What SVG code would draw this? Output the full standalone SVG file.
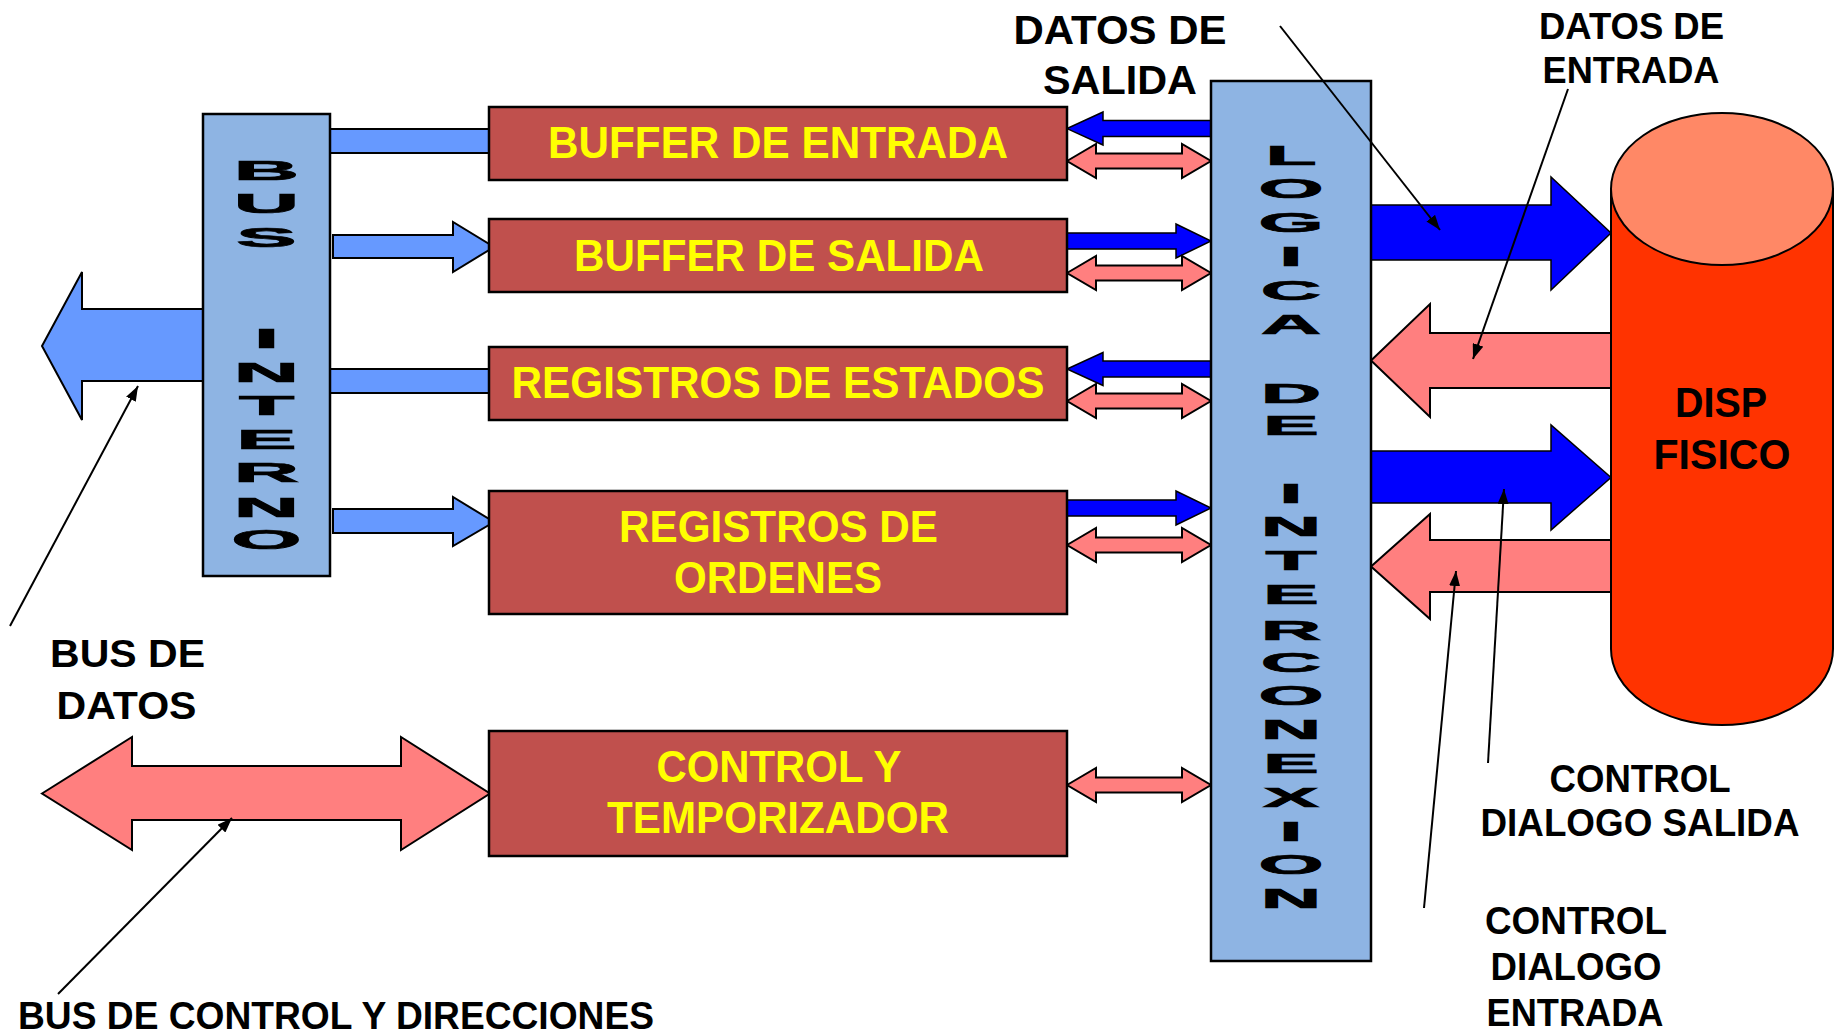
<svg xmlns="http://www.w3.org/2000/svg" width="1836" height="1034" viewBox="0 0 1836 1034">
<style>
  .lbl { font-family: "Liberation Sans", Arial, sans-serif; font-weight: bold; fill: #000; text-anchor: middle; }
  .ytx { font-family: "Liberation Sans", Arial, sans-serif; font-weight: bold; fill: #FFFF00; text-anchor: middle; font-size: 45px; }
  .vl { font-family: "Liberation Sans", Arial, sans-serif; font-weight: bold; font-size: 27px; fill: #000; stroke: #000; stroke-width: 0.7; text-anchor: middle; }
  .redbox { fill: #C0504D; stroke: #000; stroke-width: 2.5; }
  .bluebox { fill: #8EB4E3; stroke: #000; stroke-width: 2.5; }
  .lb { fill: #6699FF; stroke: #000; stroke-width: 2; }
  .db { fill: #0000FF; stroke: #000; stroke-width: 1.5; }
  .pk { fill: #FF7F7F; stroke: #000; stroke-width: 2; }
  .ann { fill: none; stroke: #000; stroke-width: 2; marker-end: url(#ah); }
</style>
<defs>
  <marker id="ah" viewBox="0 0 15 11" refX="15" refY="5.5" markerWidth="15" markerHeight="11" markerUnits="userSpaceOnUse" orient="auto">
    <path d="M0,0 L15,5.5 L0,11 z" fill="#000"/>
  </marker>
</defs>
<rect width="1836" height="1034" fill="#fff"/>

<g id="connectors">
  <path class="lb" d="M203,309 L82,309 L82,272 L42,346 L82,420 L82,381 L203,381"/>
  <path class="pk" d="M42,793.5 L132,737 L132,766 L401,766 L401,737 L490,793.5 L401,850 L401,820 L132,820 L132,850 Z"/>
  <path class="lb" d="M330,129 L490,129 L490,153 L330,153"/>
  <path class="lb" d="M333,235 L453,235 L453,222 L494,247 L453,272 L453,258 L333,258 Z"/>
  <path class="lb" d="M330,369 L490,369 L490,393 L330,393"/>
  <path class="lb" d="M333,509 L453,509 L453,497 L494,522 L453,546 L453,533 L333,533 Z"/>
  <path class="db" d="M1211,120.5 L1103,120.5 L1103,112 L1067,128.6 L1103,145 L1103,136.5 L1211,136.5"/>
  <path class="db" d="M1067,233 L1176,233 L1176,224 L1211,241 L1176,258 L1176,249 L1067,249"/>
  <path class="db" d="M1211,361 L1103,361 L1103,352.5 L1067,369 L1103,385.5 L1103,377 L1211,377"/>
  <path class="db" d="M1067,500 L1176,500 L1176,491 L1211,508 L1176,525 L1176,516 L1067,516"/>
  <path class="pk" d="M1067,161 L1096,144 L1096,153.5 L1182,153.5 L1182,144 L1211,161 L1182,178 L1182,168.5 L1096,168.5 L1096,178 Z"/>
  <path class="pk" d="M1067,273 L1096,256 L1096,265.5 L1182,265.5 L1182,256 L1211,273 L1182,290 L1182,280.5 L1096,280.5 L1096,290 Z"/>
  <path class="pk" d="M1067,401 L1096,384 L1096,393.5 L1182,393.5 L1182,384 L1211,401 L1182,418 L1182,408.5 L1096,408.5 L1096,418 Z"/>
  <path class="pk" d="M1067,545 L1096,528 L1096,537.5 L1182,537.5 L1182,528 L1211,545 L1182,562 L1182,552.5 L1096,552.5 L1096,562 Z"/>
  <path class="pk" d="M1067,785 L1096,768 L1096,777.5 L1182,777.5 L1182,768 L1211,785 L1182,802 L1182,792.5 L1096,792.5 L1096,802 Z"/>
  <path class="db" d="M1371,205 L1551,205 L1551,177 L1611,233 L1551,290 L1551,260 L1371,260"/>
  <path class="pk" d="M1611,333 L1430,333 L1430,304 L1371,360.5 L1430,417 L1430,388 L1611,388"/>
  <path class="db" d="M1371,451 L1551,451 L1551,425 L1611,477.5 L1551,530 L1551,503 L1371,503"/>
  <path class="pk" d="M1611,540 L1430,540 L1430,514 L1371,566.5 L1430,619 L1430,592 L1611,592"/>
</g>

<g id="bus-interno">
  <rect class="bluebox" x="203" y="114" width="127" height="462"/>
  <text class="vl" transform="translate(266.5,180) scale(3.35,1)">B</text>
  <text class="vl" transform="translate(266.5,213) scale(3.35,1)">U</text>
  <text class="vl" transform="translate(266.5,247) scale(3.35,1)">S</text>
  <text class="vl" transform="translate(266.5,348) scale(3.35,1)">I</text>
  <text class="vl" transform="translate(266.5,382) scale(3.35,1)">N</text>
  <text class="vl" transform="translate(266.5,415) scale(3.35,1)">T</text>
  <text class="vl" transform="translate(266.5,449) scale(3.35,1)">E</text>
  <text class="vl" transform="translate(266.5,482) scale(3.35,1)">R</text>
  <text class="vl" transform="translate(266.5,517) scale(3.35,1)">N</text>
  <text class="vl" transform="translate(266.5,549) scale(3.35,1)">O</text>
</g>

<g id="buffer-entrada">
  <rect class="redbox" x="489" y="107" width="578" height="73"/>
  <text class="ytx" x="778" y="158" textLength="460" lengthAdjust="spacingAndGlyphs">BUFFER DE ENTRADA</text>
</g>
<g id="buffer-salida">
  <rect class="redbox" x="489" y="219" width="578" height="73"/>
  <text class="ytx" x="779" y="270.5" textLength="410" lengthAdjust="spacingAndGlyphs">BUFFER DE SALIDA</text>
</g>
<g id="registros-estados">
  <rect class="redbox" x="489" y="347" width="578" height="73"/>
  <text class="ytx" x="778" y="398" textLength="533" lengthAdjust="spacingAndGlyphs">REGISTROS DE ESTADOS</text>
</g>
<g id="registros-ordenes">
  <rect class="redbox" x="489" y="491" width="578" height="123"/>
  <text class="ytx" x="778.5" y="541.5" textLength="319" lengthAdjust="spacingAndGlyphs">REGISTROS DE</text>
  <text class="ytx" x="778" y="592.5" textLength="208" lengthAdjust="spacingAndGlyphs">ORDENES</text>
</g>
<g id="control-temporizador">
  <rect class="redbox" x="489" y="731" width="578" height="125"/>
  <text class="ytx" x="779" y="782" textLength="245" lengthAdjust="spacingAndGlyphs">CONTROL Y</text>
  <text class="ytx" x="778" y="833" textLength="342" lengthAdjust="spacingAndGlyphs">TEMPORIZADOR</text>
</g>

<g id="logica-interconexion">
  <rect class="bluebox" x="1211" y="81" width="160" height="880"/>
  <text class="vl" transform="translate(1291,164.5) scale(3.1,1)">L</text>
  <text class="vl" transform="translate(1291,198.3) scale(3.1,1)">O</text>
  <text class="vl" transform="translate(1291,232.1) scale(3.1,1)">G</text>
  <text class="vl" transform="translate(1291,265.9) scale(3.1,1)">I</text>
  <text class="vl" transform="translate(1291,299.7) scale(3.1,1)">C</text>
  <text class="vl" transform="translate(1291,333.5) scale(3.1,1)">A</text>
  <text class="vl" transform="translate(1291,403) scale(3.1,1)">D</text>
  <text class="vl" transform="translate(1291,434.9) scale(3.1,1)">E</text>
  <text class="vl" transform="translate(1291,502.5) scale(3.1,1)">I</text>
  <text class="vl" transform="translate(1291,536.3) scale(3.1,1)">N</text>
  <text class="vl" transform="translate(1291,570.1) scale(3.1,1)">T</text>
  <text class="vl" transform="translate(1291,603.9) scale(3.1,1)">E</text>
  <text class="vl" transform="translate(1291,640) scale(3.1,1)">R</text>
  <text class="vl" transform="translate(1291,672) scale(3.1,1)">C</text>
  <text class="vl" transform="translate(1291,705.3) scale(3.1,1)">O</text>
  <text class="vl" transform="translate(1291,739.1) scale(3.1,1)">N</text>
  <text class="vl" transform="translate(1291,772.9) scale(3.1,1)">E</text>
  <text class="vl" transform="translate(1291,806.7) scale(3.1,1)">X</text>
  <text class="vl" transform="translate(1291,840.5) scale(3.1,1)">I</text>
  <text class="vl" transform="translate(1291,874.3) scale(3.1,1)">O</text>
  <text class="vl" transform="translate(1291,908.1) scale(3.1,1)">N</text>
</g>

<g id="disp-fisico">
  <path d="M1611,189 L1611,649 A111,76 0 0 0 1833,649 L1833,189 Z" fill="#FF3300" stroke="#000" stroke-width="2"/>
  <ellipse cx="1722" cy="189" rx="111" ry="76" fill="#FF8866" stroke="#000" stroke-width="2"/>
  <text class="lbl" x="1721" y="417" font-size="43" textLength="92" lengthAdjust="spacingAndGlyphs">DISP</text>
  <text class="lbl" x="1722" y="469" font-size="43" textLength="137" lengthAdjust="spacingAndGlyphs">FISICO</text>
</g>

<g id="annotations">
  <line class="ann" x1="10" y1="626" x2="138" y2="386"/>
  <line class="ann" x1="58" y1="994" x2="232" y2="818"/>
  <line class="ann" x1="1280" y1="26" x2="1440" y2="230"/>
  <line class="ann" x1="1568" y1="89" x2="1473" y2="359"/>
  <line class="ann" x1="1488" y1="763" x2="1504" y2="489"/>
  <line class="ann" x1="1424" y1="908" x2="1456" y2="571"/>

  <text class="lbl" x="1120" y="44" font-size="40" textLength="213" lengthAdjust="spacingAndGlyphs">DATOS DE</text>
  <text class="lbl" x="1120" y="94" font-size="40" textLength="154" lengthAdjust="spacingAndGlyphs">SALIDA</text>

  <text class="lbl" x="1631.5" y="39" font-size="37" textLength="185" lengthAdjust="spacingAndGlyphs">DATOS DE</text>
  <text class="lbl" x="1631" y="83" font-size="37" textLength="177" lengthAdjust="spacingAndGlyphs">ENTRADA</text>

  <text class="lbl" x="1640" y="792" font-size="38" textLength="181" lengthAdjust="spacingAndGlyphs">CONTROL</text>
  <text class="lbl" x="1640" y="836" font-size="38" textLength="319" lengthAdjust="spacingAndGlyphs">DIALOGO SALIDA</text>

  <text class="lbl" x="1576" y="934" font-size="38" textLength="182" lengthAdjust="spacingAndGlyphs">CONTROL</text>
  <text class="lbl" x="1576" y="980" font-size="38" textLength="171" lengthAdjust="spacingAndGlyphs">DIALOGO</text>
  <text class="lbl" x="1575" y="1026" font-size="38" textLength="177" lengthAdjust="spacingAndGlyphs">ENTRADA</text>

  <text class="lbl" x="127.5" y="667" font-size="38" textLength="155" lengthAdjust="spacingAndGlyphs">BUS DE</text>
  <text class="lbl" x="126.5" y="719" font-size="38" textLength="140" lengthAdjust="spacingAndGlyphs">DATOS</text>

  <text class="lbl" x="336" y="1029" font-size="39" textLength="636" lengthAdjust="spacingAndGlyphs">BUS DE CONTROL Y DIRECCIONES</text>
</g>
</svg>
